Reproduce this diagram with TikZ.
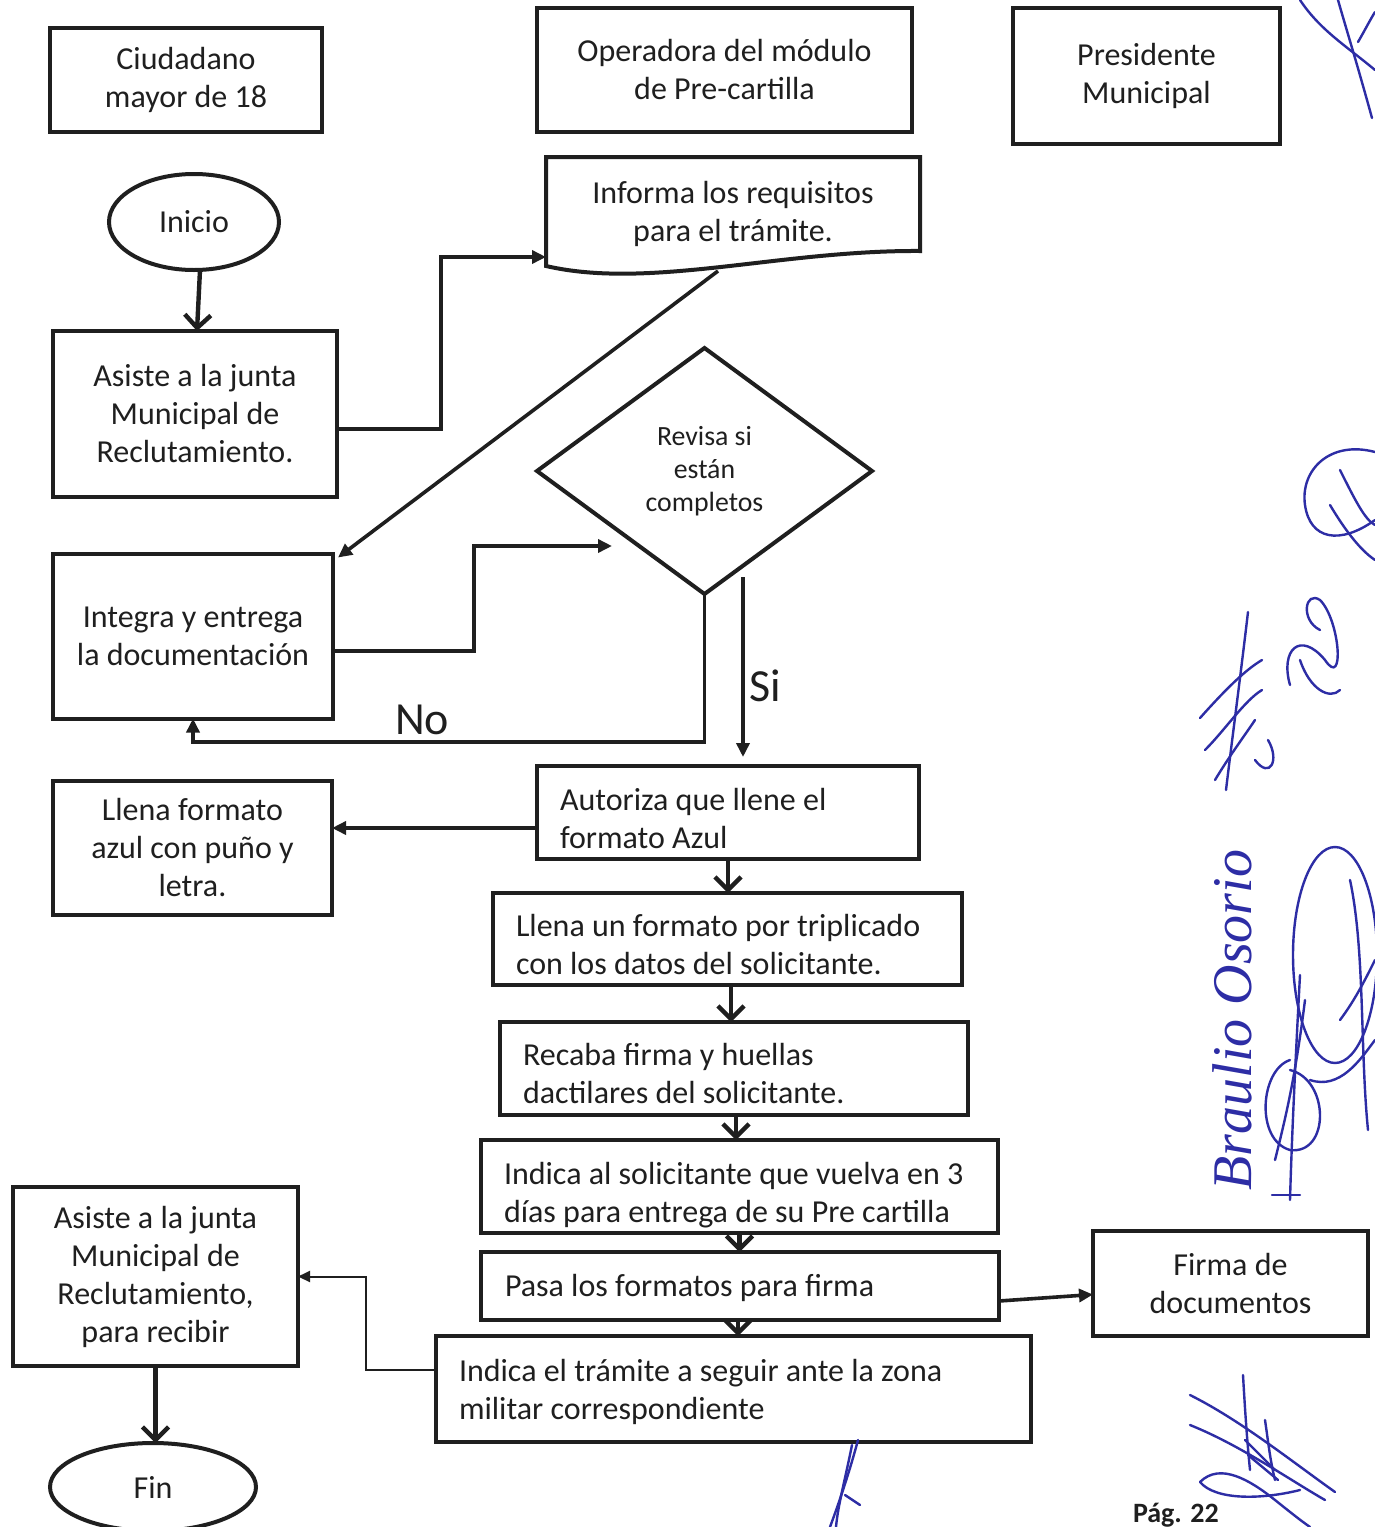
\documentclass[tikz,border=0pt]{standalone}
\usepackage{fontspec}
\setmainfont{Carlito}
\newfontfamily\handfont{Liberation Serif}
\usetikzlibrary{shapes.geometric,arrows.meta,calc}
\definecolor{ink}{HTML}{1F1F1F}
\definecolor{pen}{RGB}{45,45,165}
\newcommand\natspace{\spaceskip=0pt\xspaceskip=0pt\relax}
\tikzset{
  base/.style={text=ink, font=\fontsize{16}{19}\selectfont, inner sep=0pt, outer sep=0pt},
  box/.style={base, draw=ink, line width=2pt, rectangle, align=center},
  ltext/.style={base, align=left, anchor=west},
  oval/.style={base, draw=ink, line width=2pt, ellipse},
  decision/.style={base, draw=ink, line width=2pt, diamond, align=center,
    font=\fontsize{13.9}{16.5}\selectfont},
  conn/.style={draw=ink, line width=1.8pt, -{Triangle[length=7pt,width=6.5pt]}},
  thinconn/.style={draw=ink, line width=1pt, -{Triangle[length=6pt,width=5.5pt]}},
  barb/.style={draw=ink, line width=2.2pt, -{Straight Barb[length=6.5pt,width=13pt]}},
  frame/.style={draw=ink, line width=2pt, line join=miter},
  sig/.style={draw=pen, line width=1.2pt, line cap=round},
  tag/.style={base, font=\fontsize{23}{26}\selectfont}
}
\begin{document}
\begin{tikzpicture}[x=0.5pt,y=-0.5pt]
\useasboundingbox (0,0) rectangle (1375,1527);
\fill[white] (0,0) rectangle (1375,1527);
\begin{scope}
\clip (0,0) rectangle (1375,1527);

% column headers
\node[box, minimum width=136pt, minimum height=52pt] (ciud) at (186,80) {Ciudadano\\mayor de 18};
\node[box, minimum width=187.5pt, minimum height=62pt] (oper) at (724.5,69.5) {Operadora del módulo\\de Pre-cartilla};
\node[box, minimum width=133.5pt, minimum height=68pt] (pres) at (1146.5,75.5) {Presidente\\Municipal};

% citizen column
\node[oval, minimum width=85pt, minimum height=48pt] (inicio) at (194,222) {Inicio};
\node[box, minimum width=142pt, minimum height=83pt] (asiste) at (195,414) {Asiste a la junta\\Municipal de\\Reclutamiento.};
\node[box, minimum width=140pt, minimum height=82.5pt] (integ) at (193,636) {Integra y entrega\\la documentación};
\node[box, minimum width=139.5pt, minimum height=67pt] (azul) at (192.5,848) {Llena formato\\azul con puño y\\letra.};
\node[box, minimum width=142.5pt, minimum height=89.5pt] (recibir) at (155.5,1276.5) {Asiste a la junta\\Municipal de\\Reclutamiento,\\para recibir};
\node[oval, minimum width=103pt, minimum height=44pt] (fin) at (153,1487) {Fin};

% operator column
\node[base, minimum width=187pt, minimum height=55.5pt, align=center] (info) at (733,213.5) {Informa los requisitos\\para el trámite.};
\draw[frame] (546,157) -- (920,157) -- (920,251)
  .. controls (780,250) and (650,290) .. (546,266) -- cycle;
\node[decision, minimum width=167.5pt, minimum height=123pt] (rev) at (704.5,471) {Revisa si\\están\\completos};

\node[box, minimum width=191pt, minimum height=46.5pt] (autor) at (728,812.5) {};
\node[ltext] (autor-t) at ([xshift=11.5pt,yshift=-3pt]autor.west) {\natspace Autoriza que llene el\\formato Azul};
\node[box, minimum width=234.5pt, minimum height=46pt] (trip) at (727.5,939) {};
\node[ltext] (trip-t) at ([xshift=11.5pt,yshift=-3pt]trip.west) {\natspace Llena un formato por triplicado\\con los datos del solicitante.};
\node[box, minimum width=234pt, minimum height=46.5pt] (recaba) at (734,1068.5) {};
\node[ltext] (recaba-t) at ([xshift=11.5pt,yshift=-2.5pt]recaba.west) {\natspace Recaba firma y huellas\\dactilares del solicitante.};
\node[box, minimum width=258.5pt, minimum height=46.5pt] (indica) at (739.5,1186.5) {};
\node[ltext] (indica-t) at ([xshift=11.5pt,yshift=-4.5pt]indica.west) {\natspace Indica al solicitante que vuelva en 3\\días para entrega de su Pre cartilla};
\node[box, minimum width=259pt, minimum height=34pt] (pasa) at (740,1286) {};
\node[ltext] (pasa-t) at ([xshift=12pt,yshift=-1pt]pasa.west) {\natspace Pasa los formatos para firma};
\node[box, minimum width=297.5pt, minimum height=53pt] (zona) at (733.5,1389) {};
\node[ltext] (zona-t) at ([xshift=11.5pt,yshift=-1.5pt]zona.west) {\natspace Indica el trámite a seguir ante la zona\\militar correspondiente};

% president column
\node[box, minimum width=137.5pt, minimum height=52.5pt] (firma) at (1230.5,1283) {Firma de\\documentos};

% connectors
\draw[barb] ([xshift=3pt]inicio.south) -- ([xshift=1pt]asiste.north);
\draw[conn] ([yshift=-7.5pt]asiste.east) -- ++(104,0) |- (546,257);
\draw[conn] (718,271) -- ([shift={(5,4)}]integ.north east);
\draw[conn] ([yshift=-7.5pt]integ.east) -- ++(141,0) |- ([shift={(-92.5,75)}]rev.center);
\draw[conn] (rev.south) -- ++(0,148) -| (integ.south);
\node[tag] (no) at (422,720) {No};
\draw[conn] ([shift={(38.5,106)}]rev.center) -- ([shift={(15,-9)}]autor.north);
\node[tag] (si) at (765,686) {Si};
\draw[conn] ([yshift=-7.75pt]autor.west) -- ([yshift=-7.75pt]autor.west -| azul.east);
\draw[barb] (autor.south) -- (autor.south |- trip.north);
\draw[barb] ([xshift=1.75pt]trip.south) -- ([xshift=1.75pt]trip.south |- recaba.north);
\draw[barb] ([xshift=1pt]recaba.south) -- ([xshift=1pt]recaba.south |- indica.north);
\draw[barb] (indica.south) -- (indica.south |- pasa.north);
\draw[barb] ([xshift=-1pt]pasa.south) -- ([xshift=-1pt]pasa.south |- zona.north);
\draw[conn] ([yshift=-7.5pt]pasa.east) -- ([yshift=-5.75pt]firma.west);
\draw[thinconn] ([yshift=9.5pt]zona.west) -- ++(-70,0) |- (recibir.east);
\draw[barb] (recibir.south) -- (recibir.south |- fin.north);

% page number
\node[base, anchor=base west, font=\fontsize{14}{16}\selectfont\bfseries] (pag) at (1133,1522) {Pág. 22};

% signatures in the margin
\draw[sig] (1300,0) .. controls (1320,30) and (1345,45) .. (1375,70);
\draw[sig] (1338,0) .. controls (1348,35) and (1356,60) .. (1372,118);
\draw[sig] (1358,42) .. controls (1365,30) and (1370,20) .. (1375,12);

\draw[sig] (1375,452) .. controls (1330,440) and (1300,470) .. (1305,505) .. controls (1310,540) and (1340,545) .. (1375,520);
\draw[sig] (1330,505) .. controls (1345,530) and (1360,550) .. (1375,560);
\draw[sig] (1340,470) .. controls (1355,500) and (1365,520) .. (1375,525);

\draw[sig] (1248,612) .. controls (1240,680) and (1232,740) .. (1226,790);
\draw[sig] (1200,718) .. controls (1225,690) and (1245,670) .. (1262,660);
\draw[sig] (1205,750) .. controls (1225,730) and (1245,700) .. (1262,690);
\draw[sig] (1215,780) .. controls (1230,755) and (1245,735) .. (1255,720);
\draw[sig] (1255,760) .. controls (1270,780) and (1280,760) .. (1268,740);

\draw[sig] (1290,685) .. controls (1280,650) and (1300,630) .. (1325,660) .. controls (1345,690) and (1340,620) .. (1320,600) .. controls (1305,590) and (1300,620) .. (1320,630);
\draw[sig] (1300,660) .. controls (1310,690) and (1330,700) .. (1340,690);

\node[base, text=pen, rotate=90, font=\handfont\itshape\fontsize{28}{30}\selectfont] (firmante) at (1232,1020) {Braulio Osorio};

\draw[sig] (1300,975) .. controls (1296,1050) and (1292,1130) .. (1290,1200);
\draw[sig] (1272,1195) -- (1300,1195);
\draw[sig] (1290,1060) .. controls (1260,1070) and (1255,1140) .. (1290,1150) .. controls (1330,1155) and (1330,1080) .. (1290,1070);
\draw[sig] (1275,1160) .. controls (1285,1120) and (1295,1080) .. (1305,1000);

\draw[sig] (1335,955) ellipse [x radius=42, y radius=108];
\draw[sig] (1350,880) .. controls (1365,950) and (1360,1050) .. (1368,1130);
\draw[sig] (1340,1020) .. controls (1355,1000) and (1365,980) .. (1375,960);
\draw[sig] (1310,1080) .. controls (1340,1090) and (1360,1060) .. (1375,1040);

\draw[sig] (1190,1395) .. controls (1240,1420) and (1290,1460) .. (1335,1492);
\draw[sig] (1190,1425) .. controls (1240,1445) and (1290,1480) .. (1325,1500);
\draw[sig] (1243,1375) .. controls (1245,1410) and (1247,1440) .. (1250,1470);
\draw[sig] (1265,1420) .. controls (1268,1440) and (1270,1460) .. (1275,1480);
\draw[sig] (1200,1482) .. controls (1220,1462) and (1250,1480) .. (1275,1500) .. controls (1290,1512) and (1300,1520) .. (1310,1527);
\draw[sig] (1200,1482) .. controls (1215,1500) and (1260,1500) .. (1300,1490);
\draw[sig] (1245,1440) -- (1275,1470);
\draw[sig] (1248,1455) -- (1278,1480);

\draw[sig] (858,1440) .. controls (850,1470) and (840,1500) .. (830,1527);
\draw[sig] (852,1445) .. controls (845,1480) and (838,1505) .. (836,1527);
\draw[sig] (845,1495) -- (860,1505);
\end{scope}
\end{tikzpicture}
\end{document}
